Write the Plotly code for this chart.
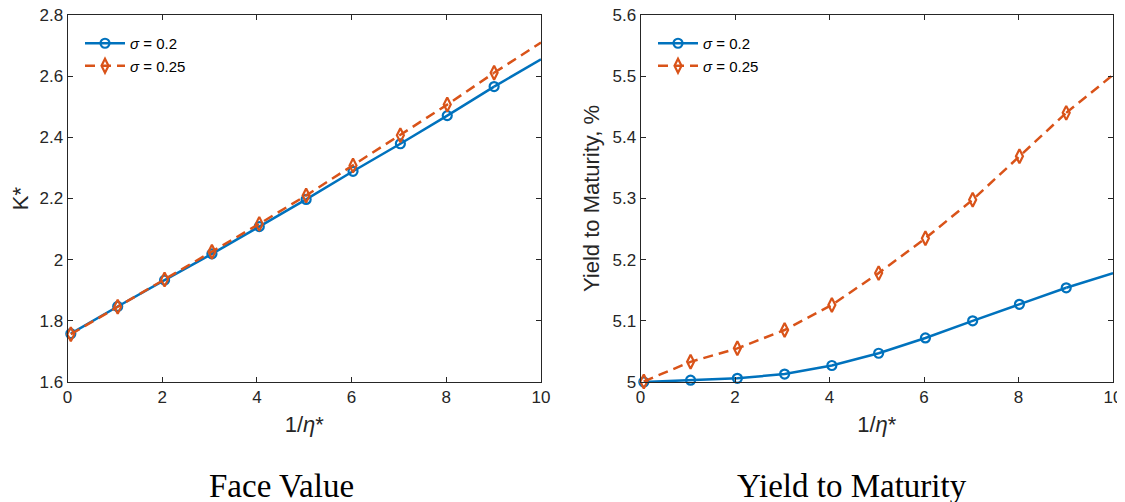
import plotly.graph_objects as go

# ---- data ----
x_vals = [0.07, 1.06, 2.05, 3.05, 4.05, 5.04, 6.03, 7.03, 8.02, 9.01, 10.0]

face_s020 = [1.758, 1.847, 1.933, 2.019, 2.108, 2.197, 2.289, 2.379, 2.471, 2.566, 2.655]
face_s025 = [1.756, 1.846, 1.935, 2.026, 2.117, 2.210, 2.308, 2.407, 2.507, 2.611, 2.710]

ytm_s020 = [5.000, 5.003, 5.006, 5.013, 5.027, 5.047, 5.072, 5.100, 5.127, 5.154, 5.178]
ytm_s025 = [5.001, 5.033, 5.055, 5.085, 5.126, 5.178, 5.235, 5.298, 5.369, 5.440, 5.502]

series_names = ["<i>σ</i> = 0.2", "<i>σ</i> = 0.25"]
captions = ["Face Value", "Yield to Maturity"]

BLUE = "#0072BD"
ORANGE = "#D95319"
AXC = "#262626"

fig = go.Figure()

def add_series(xa, ya, yvals, name, color, symbol, dash, legend, msize):
    n = len(x_vals) - 1
    fig.add_trace(go.Scatter(
        x=x_vals[:n], y=yvals[:n], mode="lines+markers", name=name,
        xaxis=xa, yaxis=ya, legend=legend,
        line=dict(color=color, width=2.5, dash=dash),
        marker=dict(symbol=symbol, size=msize, color=color,
                    line=dict(color=color, width=2.2)),
        cliponaxis=False,
    ))
    fig.add_trace(go.Scatter(
        x=x_vals[n - 1:], y=yvals[n - 1:], mode="lines", showlegend=False,
        xaxis=xa, yaxis=ya,
        line=dict(color=color, width=2.5, dash=dash),
        hoverinfo="skip",
    ))

add_series("x", "y", face_s020, series_names[0], BLUE, "circle-open", "solid", "legend", 9)
add_series("x", "y", face_s025, series_names[1], ORANGE, "diamond-tall-open", "10px,6px", "legend", 10)
add_series("x2", "y2", ytm_s020, series_names[0], BLUE, "circle-open", "solid", "legend2", 9)
add_series("x2", "y2", ytm_s025, series_names[1], ORANGE, "diamond-tall-open", "10px,6px", "legend2", 10)

# page body has an 8px margin: figure starts at (8, 8) in the window
OFF = 8
W, H = 1125 - OFF, 502 - OFF
def px_x(p): return (p - OFF) / W
def px_y(p): return 1 - (p - OFF) / H

axis_common = dict(
    showgrid=False, zeroline=False, showline=True, linecolor=AXC, linewidth=1,
    mirror="ticks", ticks="inside", ticklen=5, tickcolor=AXC, tickwidth=1,
    automargin=False, ticklabeloverflow="allow",
    tickfont=dict(family="Liberation Sans, Arial, sans-serif", size=17, color=AXC),
)
title_font = dict(family="Liberation Sans, Arial, sans-serif", size=22, color=AXC)

y_dom = [px_y(382), px_y(15)]

legend_font = dict(family="Liberation Sans, Arial, sans-serif", size=15, color="black")

fig.update_layout(
    width=W, height=H,
    margin=dict(l=0, r=0, t=0, b=0),
    paper_bgcolor="white", plot_bgcolor="white",
    xaxis=dict(domain=[px_x(67.5), px_x(541)], range=[0, 10], dtick=2, anchor="y",
               title=dict(text="1/<i>η</i>*", font=title_font, standoff=10), **axis_common),
    yaxis=dict(domain=y_dom, range=[1.6, 2.8], dtick=0.2, anchor="x",
               title=dict(text="K*", font=title_font, standoff=6), **axis_common),
    xaxis2=dict(domain=[px_x(640.5), px_x(1113)], range=[0, 10], dtick=2, anchor="y2",
                title=dict(text="1/<i>η</i>*", font=title_font, standoff=10), **axis_common),
    yaxis2=dict(domain=y_dom, range=[5.0, 5.6], dtick=0.1, anchor="x2",
                title=dict(text="Yield to Maturity, %", font=title_font, standoff=6), **axis_common),
    legend=dict(x=px_x(80), y=px_y(27), xanchor="left", yanchor="top",
                bgcolor="rgba(0,0,0,0)", borderwidth=0, font=legend_font,
                itemwidth=40, tracegroupgap=0),
    legend2=dict(x=px_x(653), y=px_y(27), xanchor="left", yanchor="top",
                 bgcolor="rgba(0,0,0,0)", borderwidth=0, font=legend_font,
                 itemwidth=40, tracegroupgap=0),
    annotations=[
        dict(text=captions[0], x=px_x(281), y=px_y(486), xref="paper", yref="paper",
             showarrow=False, xanchor="center", yanchor="middle",
             font=dict(family="Liberation Serif, DejaVu Serif, serif", size=33, color="black")),
        dict(text=captions[1], x=px_x(852), y=px_y(486), xref="paper", yref="paper",
             showarrow=False, xanchor="center", yanchor="middle",
             font=dict(family="Liberation Serif, DejaVu Serif, serif", size=33, color="black")),
    ],
)

fig.write_html("out.html")
